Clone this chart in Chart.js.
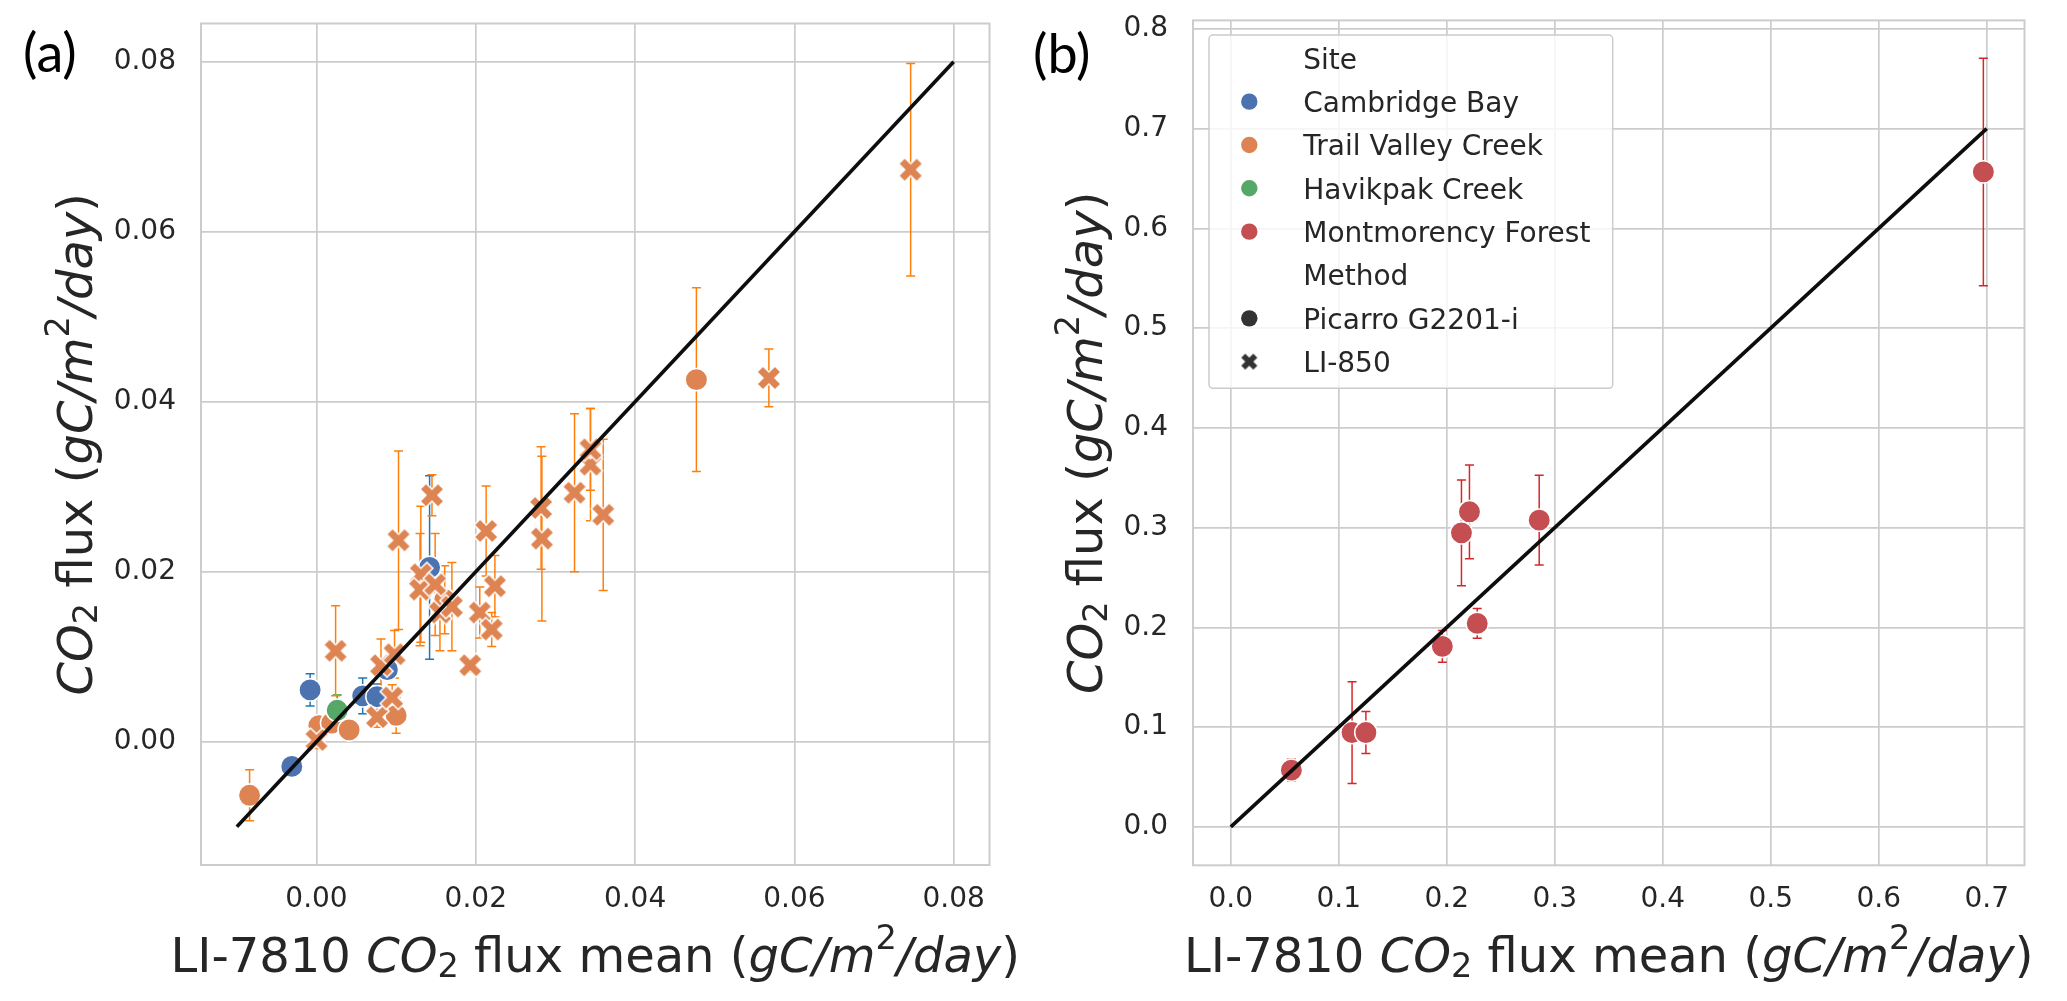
<!DOCTYPE html>
<html><head><meta charset="utf-8">
<script src="https://cdn.jsdelivr.net/npm/chart.js@4.4.1/dist/chart.umd.min.js"></script>
<style>
html,body{margin:0;padding:0;background:#fff;overflow:hidden;}
#wrapA{position:absolute;left:0;top:0;width:1033px;height:1001px;}
#wrapB{position:absolute;left:1033px;top:0;width:1034px;height:1001px;}
canvas{display:block;}
</style></head><body>
<div id="wrapA"><canvas id="cA" width="1033" height="1001"></canvas></div>
<div id="wrapB"><canvas id="cB" width="1034" height="1001"></canvas></div>
<script>
// ---------------- DATA ----------------
const siteNames = ['Cambridge Bay', 'Trail Valley Creek', 'Havikpak Creek', 'Montmorency Forest'];
const methodNames = ['Picarro G2201-i', 'LI-850'];

// Panel (a)
const cbPicX   = [-0.0031, -0.0008, 0.0058, 0.0076, 0.0089, 0.0142];
const cbPicY   = [-0.0029, 0.0061, 0.0054, 0.0053, 0.0085, 0.0205];
const cbPicErr = [0.0008, 0.0019, 0.0021, 0.0015, 0.0012, 0.0108];

const hcPicX   = [0.0026];
const hcPicY   = [0.0037];
const hcPicErr = [0.0018];

const tvcPicX   = [-0.0084, 0.0003, 0.0019, 0.0041, 0.0100, 0.0161, 0.0477];
const tvcPicY   = [-0.0063, 0.0019, 0.0022, 0.0014, 0.0031, 0.0167, 0.0426];
const tvcPicErr = [0.0030, 0.0008, 0.0008, 0.0006, 0.0021, 0.0040, 0.0108];

const tvcLiX   = [0.0000, 0.0024, 0.0076, 0.0081, 0.0098, 0.0095, 0.0103, 0.0131, 0.0130, 0.0145,
                  0.0149, 0.0155, 0.0170, 0.0193, 0.0205, 0.0213, 0.0220, 0.0224, 0.0282, 0.0283,
                  0.0324, 0.0344, 0.0344, 0.0360, 0.0568, 0.0746];
const tvcLiY   = [0.0002, 0.0107, 0.0029, 0.0090, 0.0103, 0.0052, 0.0237, 0.0197, 0.0179, 0.0290,
                  0.0185, 0.0152, 0.0159, 0.0090, 0.0152, 0.0248, 0.0132, 0.0183, 0.0275, 0.0239,
                  0.0293, 0.0326, 0.0344, 0.0267, 0.0428, 0.0673];
const tvcLiErr = [0.0010, 0.0053, 0.0012, 0.0031, 0.0028, 0.0015, 0.0105, 0.0080, 0.0066, 0.0024,
                  0.0060, 0.0045, 0.0052, 0.0008, 0.0030, 0.0053, 0.0020, 0.0036, 0.0072, 0.0097,
                  0.0093, 0.0066, 0.0048, 0.0089, 0.0034, 0.0125];

const lineAX = [-0.01, 0.08];
const lineAY = [-0.01, 0.08];

const xTicksA = [0.00, 0.02, 0.04, 0.06, 0.08];
const yTicksA = [0.00, 0.02, 0.04, 0.06, 0.08];

// Panel (b)
const mfPicX   = [0.0561, 0.1123, 0.1251, 0.1959, 0.2136, 0.2210, 0.2282, 0.2856, 0.6969];
const mfPicY   = [0.0569, 0.0946, 0.0946, 0.1810, 0.2948, 0.3159, 0.2040, 0.3075, 0.6566];
const mfPicErr = [0.011, 0.051, 0.021, 0.016, 0.053, 0.047, 0.015, 0.045, 0.114];

const lineBX = [0.0, 0.7];
const lineBY = [0.0, 0.7];

const xTicksB = [0.0, 0.1, 0.2, 0.3, 0.4, 0.5, 0.6, 0.7];
const yTicksB = [0.0, 0.1, 0.2, 0.3, 0.4, 0.5, 0.6, 0.7, 0.8];

// ---------------- STYLE ----------------
const siteColors = ['#4C72B0', '#DD8452', '#55A868', '#C44E52'];
const errColors  = ['#1f77b4', '#ff7f0e', '#2ca02c', '#d62728'];
const TXT = '#262626';
const GRID = '#cccccc';
const FONT = '"DejaVu Sans", sans-serif';

function pts(xs, ys) { return xs.map((x, i) => ({x: x, y: ys[i]})); }

function makeX(color, s, stroke, strokeColor) {
  const ext = 0.4714 * s + stroke;
  let size = Math.ceil(2 * ext + 2); if (size % 2) size++;
  const c = document.createElement('canvas'); c.width = size; c.height = size;
  const g = c.getContext('2d');
  const P = [[-1,-3],[1,-3],[1,-1],[3,-1],[3,1],[1,1],[1,3],[-1,3],[-1,1],[-3,1],[-3,-1],[-1,-1]];
  g.translate(size / 2, size / 2);
  g.beginPath();
  P.forEach(([px, py], i) => {
    const x = (px - py) / Math.SQRT2 * s / 6, y = (px + py) / Math.SQRT2 * s / 6;
    if (i) g.lineTo(x, y); else g.moveTo(x, y);
  });
  g.closePath();
  g.fillStyle = color; g.fill();
  if (stroke) { g.lineWidth = stroke; g.strokeStyle = strokeColor; g.lineJoin = 'miter'; g.stroke(); }
  return c;
}
const xMarkOrange = makeX(siteColors[1], 25.5, 1.5, '#ffffff');
const xMarkLegend = makeX('#333333', 17, 0, null);

// rich text: segments {t, it, sub, sup}
function segFont(seg, size) {
  const sz = (seg.sub || seg.sup) ? size * 0.7 : size;
  return (seg.it ? 'italic ' : '') + sz + 'px ' + FONT;
}
function richWidth(ctx, segs, size) {
  let w = 0;
  segs.forEach(s => { ctx.font = segFont(s, size); w += ctx.measureText(s.t).width; });
  return w;
}
function drawRich(ctx, segs, size, x, y) { // x = start, y = baseline
  ctx.textBaseline = 'alphabetic'; ctx.textAlign = 'left';
  segs.forEach(s => {
    ctx.font = segFont(s, size);
    let dy = 0;
    if (s.sub) dy = size * 0.11;
    if (s.sup) dy = -size * 0.47;
    ctx.fillText(s.t, x, y + dy);
    x += ctx.measureText(s.t).width;
  });
}
const yTitleSegs = [
  {t: 'CO', it: true}, {t: '2', sub: true}, {t: ' flux ('}, {t: 'gC/m', it: true},
  {t: '2', sup: true}, {t: '/day', it: true}, {t: ')'}
];
const xTitleSegs = [
  {t: 'LI-7810 '}, {t: 'CO', it: true}, {t: '2', sub: true}, {t: ' flux mean ('},
  {t: 'gC/m', it: true}, {t: '2', sup: true}, {t: '/day', it: true}, {t: ')'}
];
const TITLE_SIZE = 48;

const decoPlugin = {
  id: 'deco',
  beforeDatasetsDraw(chart) {
    const ctx = chart.ctx, xs = chart.scales.x, ys = chart.scales.y;
    ctx.save();
    ctx.beginPath();
    const a = chart.chartArea;
    ctx.rect(a.left, a.top, a.right - a.left, a.bottom - a.top);
    ctx.clip();
    chart.data.datasets.forEach(ds => {
      if (!ds.errs) return;
      ctx.strokeStyle = ds.errColor; ctx.lineWidth = 1.5;
      ds.data.forEach((p, i) => {
        const e = ds.errs[i];
        const px = xs.getPixelForValue(p.x);
        const y1 = ys.getPixelForValue(p.y - e), y2 = ys.getPixelForValue(p.y + e);
        ctx.beginPath();
        ctx.moveTo(px, y1); ctx.lineTo(px, y2);
        ctx.moveTo(px - 4.5, y1); ctx.lineTo(px + 4.5, y1);
        ctx.moveTo(px - 4.5, y2); ctx.lineTo(px + 4.5, y2);
        ctx.stroke();
      });
    });
    ctx.restore();
  },
  afterDatasetsDraw(chart, args, opts) {
    const ctx = chart.ctx, a = chart.chartArea;
    ctx.save();
    // frame
    ctx.strokeStyle = GRID; ctx.lineWidth = 2;
    ctx.strokeRect(a.left, a.top, a.right - a.left, a.bottom - a.top);
    ctx.fillStyle = TXT;
    // x title
    const wx = richWidth(ctx, xTitleSegs, TITLE_SIZE);
    drawRich(ctx, xTitleSegs, TITLE_SIZE, (a.left + a.right) / 2 - wx / 2, opts.xTitleBaseline);
    // y title
    const wy = richWidth(ctx, yTitleSegs, TITLE_SIZE);
    ctx.save();
    ctx.translate(opts.yTitleBaseline, (a.top + a.bottom) / 2);
    ctx.rotate(-Math.PI / 2);
    drawRich(ctx, yTitleSegs, TITLE_SIZE, -wy / 2, 0);
    ctx.restore();
    // panel label
    ctx.font = '54px Lato, "Open Sans", sans-serif';
    ctx.textBaseline = 'middle'; ctx.textAlign = 'left';
    ctx.fillStyle = '#000000';
    ctx.fillText(opts.label, opts.labelX, opts.labelY);
    // legend
    if (opts.legend) {
      const L = opts.legend;
      ctx.beginPath();
      if (ctx.roundRect) ctx.roundRect(L.x, L.y, L.w, L.h, 4); else ctx.rect(L.x, L.y, L.w, L.h);
      ctx.fillStyle = 'rgba(255,255,255,0.8)'; ctx.fill();
      ctx.strokeStyle = GRID; ctx.lineWidth = 1.5; ctx.stroke();
      const rows = [
        {text: 'Site', mark: null},
        {text: siteNames[0], mark: 'c', color: siteColors[0]},
        {text: siteNames[1], mark: 'c', color: siteColors[1]},
        {text: siteNames[2], mark: 'c', color: siteColors[2]},
        {text: siteNames[3], mark: 'c', color: siteColors[3]},
        {text: 'Method', mark: null},
        {text: methodNames[0], mark: 'c', color: '#333333'},
        {text: methodNames[1], mark: 'x'}
      ];
      ctx.font = '28px ' + FONT; ctx.textBaseline = 'alphabetic';
      rows.forEach((r, i) => {
        const cy = L.row0 + i * L.step;
        ctx.fillStyle = TXT;
        ctx.fillText(r.text, L.textX, cy + 10.2);
        if (r.mark === 'c') {
          ctx.beginPath(); ctx.arc(L.markX, cy, 8.2, 0, Math.PI * 2);
          ctx.fillStyle = r.color; ctx.fill();
        } else if (r.mark === 'x') {
          ctx.drawImage(xMarkLegend, L.markX - xMarkLegend.width / 2, cy - xMarkLegend.height / 2);
        }
      });
    }
    ctx.restore();
  }
};

function scaleOpts(min, max, ticks, dec, isY, fitSize) {
  return {
    type: 'linear', min: min, max: max,
    grid: {color: GRID, lineWidth: 1.7, drawTicks: false},
    border: {display: false},
    afterBuildTicks: s => { s.ticks = ticks.map(v => ({value: v})); },
    afterFit: s => {
      if (isY) s.width = fitSize; else s.height = fitSize;
      s.paddingTop = 0; s.paddingBottom = 0; s.paddingLeft = 0; s.paddingRight = 0;
    },
    ticks: {
      color: TXT, font: {family: FONT, size: 28},
      padding: isY ? 25 : 18,
      maxRotation: 0, autoSkip: false,
      callback: v => Number(v).toFixed(dec)
    }
  };
}

function scatterDS(xs, ys, errs, colorIdx, marker, order) {
  const ds = {
    type: 'scatter', data: pts(xs, ys), order: order,
    backgroundColor: siteColors[colorIdx], borderColor: '#ffffff', borderWidth: 1.5,
    pointRadius: 11.2, pointHoverRadius: 11.2,
    errs: errs, errColor: errColors[colorIdx]
  };
  if (marker === 'x') { ds.pointStyle = xMarkOrange; }
  return ds;
}
function lineDS(xs, ys) {
  return {type: 'line', data: pts(xs, ys), order: 0, borderColor: '#0d0d0d', borderWidth: 3.6,
    pointRadius: 0, fill: false, tension: 0};
}

Chart.register(decoPlugin);

new Chart(document.getElementById('cA'), {
  type: 'scatter',
  data: {datasets: [
    scatterDS(tvcPicX, tvcPicY, tvcPicErr, 1, 'o', 5),
    scatterDS(cbPicX, cbPicY, cbPicErr, 0, 'o', 4),
    scatterDS(hcPicX, hcPicY, hcPicErr, 2, 'o', 3),
    scatterDS(tvcLiX, tvcLiY, tvcLiErr, 1, 'x', 2),
    lineDS(lineAX, lineAY)
  ]},
  options: {
    responsive: false, animation: false, devicePixelRatio: 1, events: [],
    layout: {padding: {top: 23.5, right: 43.5, left: 0, bottom: 0}},
    scales: {
      x: scaleOpts(-0.0145, 0.0845, xTicksA, 2, false, 1001 - 865),
      y: scaleOpts(-0.0145, 0.0845, yTicksA, 2, true, 201)
    },
    plugins: {
      legend: {display: false}, tooltip: {enabled: false},
      deco: {xTitleBaseline: 971.7, yTitleBaseline: 92, label: '(a)', labelX: 23, labelY: 55}
    }
  }
});

new Chart(document.getElementById('cB'), {
  type: 'scatter',
  data: {datasets: [
    scatterDS(mfPicX, mfPicY, mfPicErr, 3, 'o', 2),
    lineDS(lineBX, lineBY)
  ]},
  options: {
    responsive: false, animation: false, devicePixelRatio: 1, events: [],
    layout: {padding: {top: 20.4, right: 42.5, left: 0, bottom: 0}},
    scales: {
      x: scaleOpts(-0.035, 0.735, xTicksB, 1, false, 1001 - 865.3),
      y: scaleOpts(-0.0385, 0.8085, yTicksB, 1, true, 160)
    },
    plugins: {
      legend: {display: false}, tooltip: {enabled: false},
      deco: {xTitleBaseline: 971.7, yTitleBaseline: 69, label: '(b)', labelX: 0, labelY: 56,
        legend: {x: 176, y: 35, w: 403.7, h: 353.3, row0: 58.3, step: 43.34, markX: 216.3, textX: 270.3}}
    }
  }
});
</script>
</body></html>
